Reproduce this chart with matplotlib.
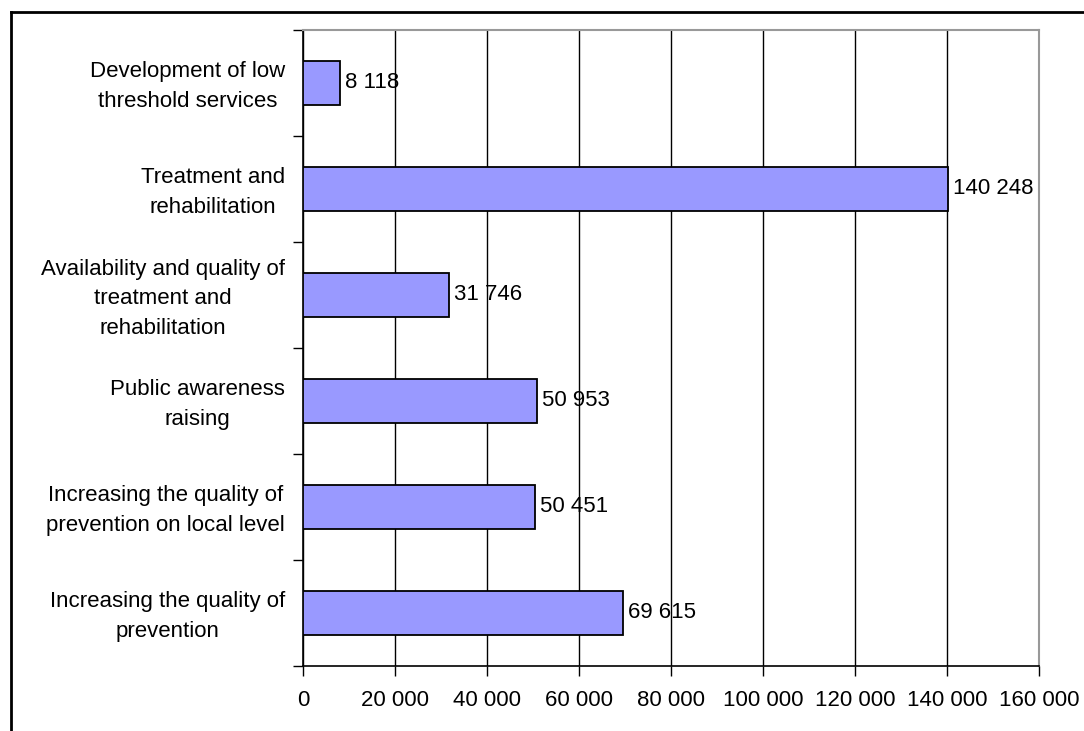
import matplotlib
matplotlib.use("Agg")
import matplotlib.pyplot as plt
from matplotlib.lines import Line2D
from matplotlib.ticker import FuncFormatter
from matplotlib.transforms import ScaledTranslation
import numpy as np

categories = [
    "Development of low\nthreshold services",
    "Treatment and\nrehabilitation",
    "Availability and quality of\ntreatment and\nrehabilitation",
    "Public awareness\nraising",
    "Increasing the quality of\nprevention on local level",
    "Increasing the quality of\nprevention",
]
values = [8118, 140248, 31746, 50953, 50451, 69615]
x_ticks = [0, 20000, 40000, 60000, 80000, 100000, 120000, 140000, 160000]

plt.rcParams['font.family'] = ['Liberation Sans', 'DejaVu Sans']
FS = 16

fig = plt.figure(figsize=(10.84, 7.31), dpi=100)
ax = fig.add_axes([303/1084, 65/731, (1039-303)/1084, (666-30)/731])

n = len(categories)
ypos = np.arange(n)
ax.barh(ypos, values, height=0.41, color="#9999FF", edgecolor="black", linewidth=1.3, zorder=3)
ax.set_ylim(n - 0.5, -0.5)
ax.set_xlim(x_ticks[0], x_ticks[-1])

def fmt(v):
    return f"{int(v):,}".replace(",", " ")

for y, v in zip(ypos, values):
    ax.text(v + 1100, y, fmt(v), va="center", ha="left", fontsize=FS, zorder=4)

ax.set_xticks(x_ticks)
ax.xaxis.set_major_formatter(FuncFormatter(lambda v, p: fmt(v)))
ax.tick_params(axis="x", length=7, width=1, pad=10, labelsize=FS, direction="out")

ax.set_yticks(ypos)
ax.set_yticklabels(categories, fontsize=FS, multialignment="center", linespacing=1.55)
ax.tick_params(axis="y", which="major", length=0, pad=13)
ax.set_yticks(np.arange(n + 1) - 0.5, minor=True)
ax.tick_params(axis="y", which="minor", length=7, width=1, direction="out")
for lbl in ax.get_yticklabels():
    lbl.set_transform(lbl.get_transform() + ScaledTranslation(0, 3/100, fig.dpi_scale_trans))

ax.grid(axis="x", color="black", linewidth=1, zorder=1)
ax.set_axisbelow(True)

for s in ["left", "bottom"]:
    ax.spines[s].set_color("black")
    ax.spines[s].set_linewidth(1.2)
for s in ["top", "right"]:
    ax.spines[s].set_color("#999999")
    ax.spines[s].set_linewidth(1.5)

# outer frame
fig.add_artist(Line2D([11/1084, 11/1084], [0, 1 - 12/731], transform=fig.transFigure, color="black", linewidth=2))
fig.add_artist(Line2D([11/1084, 1], [1 - 12/731, 1 - 12/731], transform=fig.transFigure, color="black", linewidth=2))

fig.savefig("out.png", dpi=100)
